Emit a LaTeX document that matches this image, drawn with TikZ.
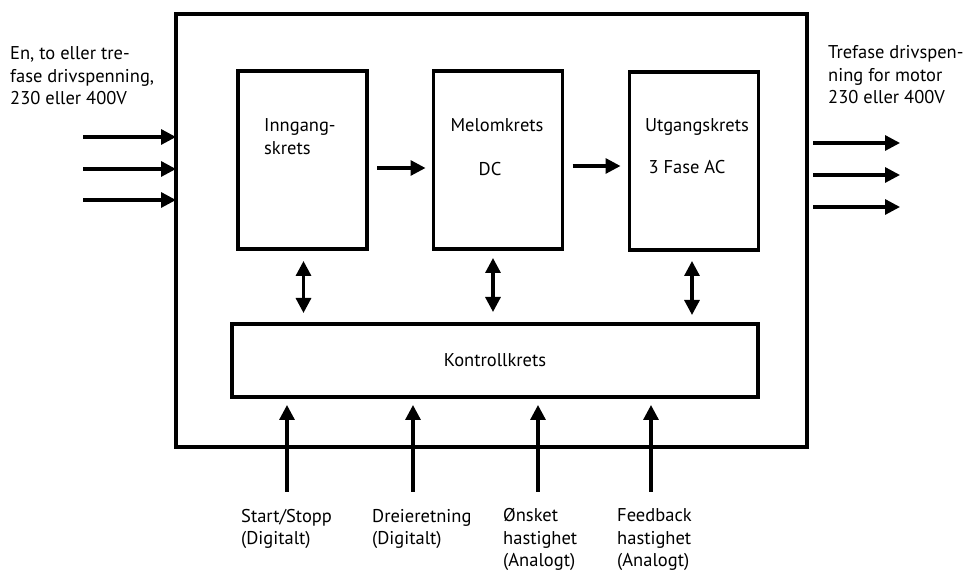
\documentclass[tikz,border=0pt]{standalone}
\usepackage{fontspec}
\setmainfont{PT Sans}
\usetikzlibrary{arrows.meta, positioning, calc}

\begin{document}
\begin{tikzpicture}[x=1pt,y=1pt,>={Triangle[length=15pt,width=15pt]}]
            \tikzstyle{ramme} = [draw, line width=3.5pt, outer sep=0pt, inner sep=0pt]
            \tikzstyle{blokk} = [ramme, minimum width=129pt, minimum height=178pt]
            \tikzstyle{pil}   = [->, line width=3.2pt]
            \tikzstyle{dpil}  = [<->, line width=3.2pt]
            \tikzstyle{every node}=[font=\fontsize{18.5}{22.5}\selectfont]
            \tikzstyle{tekst} = [inner sep=0pt, align=left, anchor=base west]

            \useasboundingbox (0,0) rectangle (966,572);

            % Frekvensomformer .........................
            \node[ramme, minimum width=631pt, minimum height=433pt] (ramme) at (491.5,341.5) {};
            \node[blokk] (inn) at (302.5,412) {};
            \node[blokk] (mel) at (498,412) {};
            \node[blokk] (utg) at (694,411) {};
            \node[ramme, minimum width=526pt, minimum height=73pt] (kon) at (495,211.5) {Kontrollkrets};

            % tekst i blokkene (base = siste linje)
            \node[tekst] (inntxt) at (264,417.5) {Inngang-\\skrets};
            \node[tekst, anchor=base] (meltxt) at (497,440) {Melomkrets};
            \node[tekst, anchor=base] (dc) at (490,396) {DC};
            \node[tekst, anchor=base] (utgtxt) at (697,440) {Utgangskrets};
            \node[tekst, anchor=base] (ac) at (687,398) {3 Fase AC};

            \draw[pil] ([shift={(10,-8)}]inn.east) -- ([shift={(-8,-8)}]mel.west);
            \draw[pil] ([shift={(10,-6)}]mel.east) -- ([shift={(-9,-5)}]utg.west);

            \draw[dpil, shorten <=12pt, shorten >=11pt] ([xshift=1pt]inn.south) -- ([xshift=1pt]inn.south |- kon.north);
            \draw[dpil, shorten <=9pt, shorten >=12pt] ([xshift=-5pt]mel.south) -- ([xshift=-5pt]mel.south |- kon.north);
            \draw[dpil, shorten <=11pt, shorten >=9pt] ([xshift=-2pt]utg.south) -- ([xshift=-2pt]utg.south |- kon.north);

            % Inn og ut .........................
            \node[tekst] (forsyning) at (10,467) {En, to eller tre-\\fase drivspenning,\\230 eller 400V};
            \node[tekst] (motor) at (828,468) {Trefase drivspen-\\ning for motor\\230 eller 400V};

            \coordinate (i1) at (83,435);
            \coordinate (i2) at (83,403);
            \coordinate (i3) at (83,372);
            \draw[pil] (i1) -- (i1 -| ramme.west);
            \draw[pil] (i2) -- (i2 -| ramme.west);
            \draw[pil] (i3) -- (i3 -| ramme.west);

            \coordinate (u1) at (900,429);
            \coordinate (u2) at (900,397);
            \coordinate (u3) at (900,365);
            \draw[pil] ([xshift=6pt]u1 -| ramme.east) -- (u1);
            \draw[pil] ([xshift=6pt]u2 -| ramme.east) -- (u2);
            \draw[pil] ([xshift=6pt]u3 -| ramme.east) -- (u3);

            % Styresignaler .........................
            \coordinate (s1) at (287,80);
            \coordinate (s2) at (413,80);
            \coordinate (s3) at (538,80);
            \coordinate (s4) at (651,80);
            \draw[pil, shorten >=8pt] (s1) -- (s1 |- kon.south);
            \draw[pil, shorten >=8pt] (s2) -- (s2 |- kon.south);
            \draw[pil, shorten >=8pt] (s3) -- (s3 |- kon.south);
            \draw[pil, shorten >=8pt] (s4) -- (s4 |- kon.south);

            \node[tekst] (start) at (241,27) {Start/Stopp\\(Digitalt)};
            \node[tekst] (retning) at (372,27) {Dreieretning\\(Digitalt)};
            \node[tekst] (onsket) at (503,5) {Ønsket\\hastighet\\(Analogt)};
            \node[tekst] (feedback) at (617,5) {Feedback\\hastighet\\(Analogt)};

        \end{tikzpicture}
\end{document}
